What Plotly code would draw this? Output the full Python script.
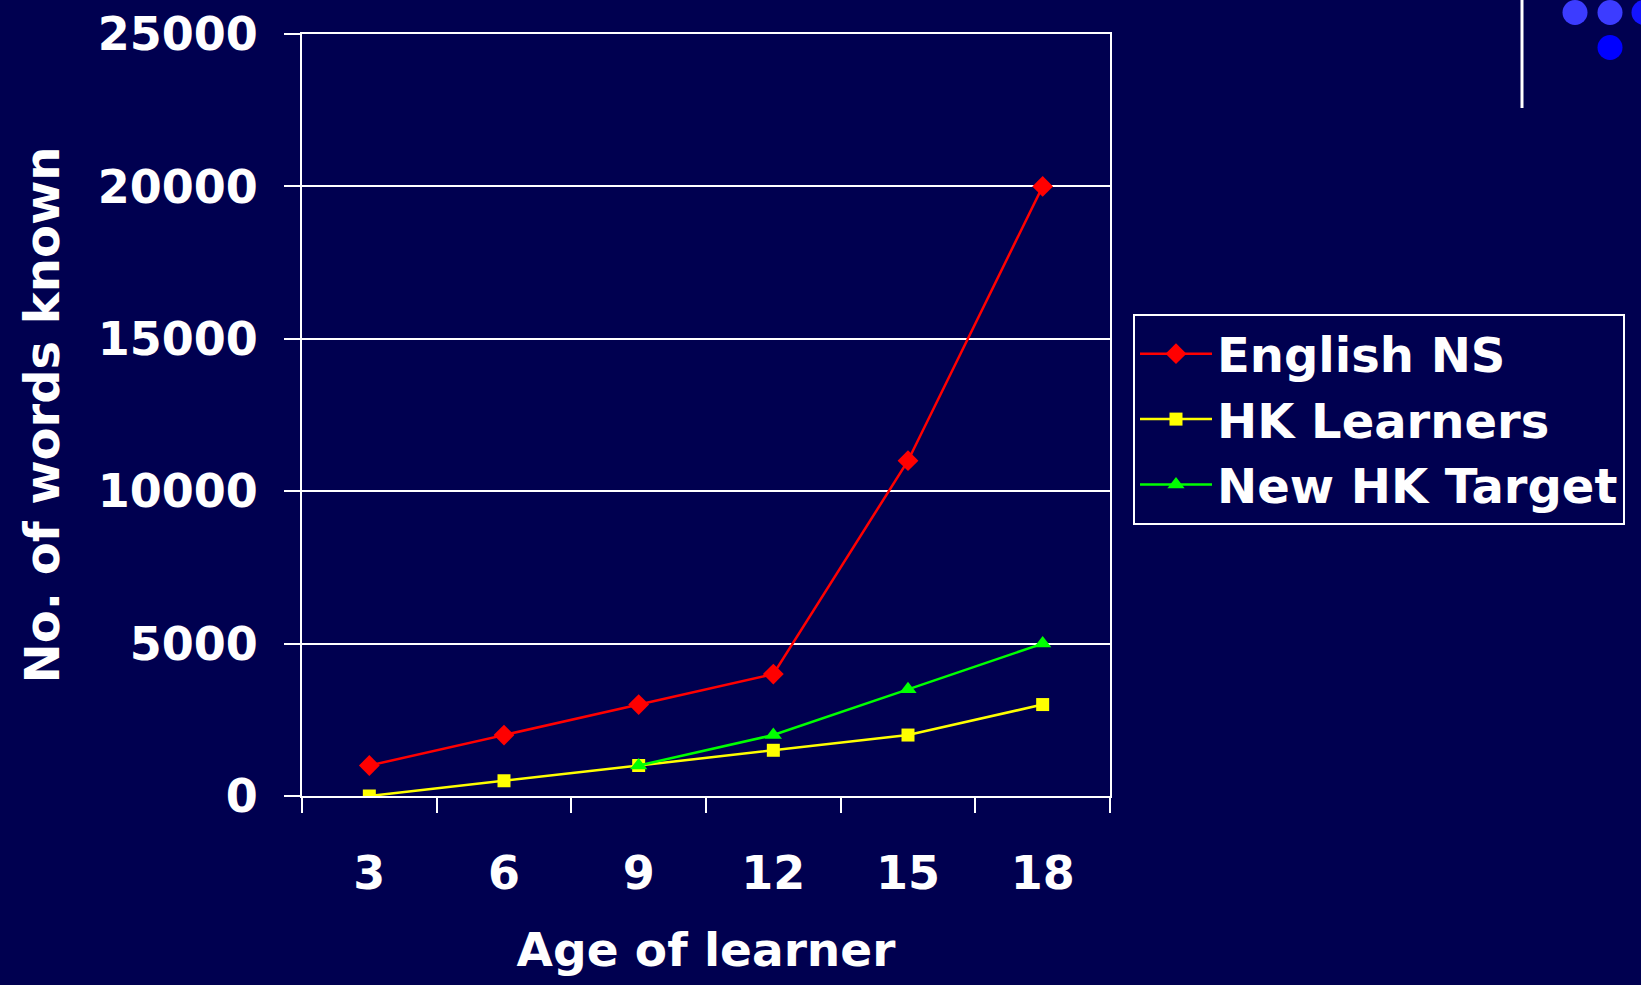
import plotly.graph_objects as go

ages = ["3", "6", "9", "12", "15", "18"]
english_ns = [1000, 2000, 3000, 4000, 11000, 20000]
hk_learners = [0, 500, 1000, 1500, 2000, 3000]
target_ages = ["9", "12", "15", "18"]
new_hk_target = [1000, 2000, 3500, 5000]
y_ticks = [0, 5000, 10000, 15000, 20000, 25000]

BG = "#000050"
W, H = 1641, 985
L, R, T, B = 302, 1110, 34, 796
FONT = "DejaVu Sans"


def px(x):
    return (x - L) / (R - L)


def py(y):
    return (B - y) / (B - T)


fig = go.Figure()
fig.add_trace(go.Scatter(x=ages, y=english_ns, name="English NS", mode="lines+markers",
                         line=dict(color="#FF0000", width=2.5),
                         marker=dict(symbol="diamond", size=16, color="#FF0000")))
fig.add_trace(go.Scatter(x=ages, y=hk_learners, name="HK Learners", mode="lines+markers",
                         line=dict(color="#FFFF00", width=2.5),
                         marker=dict(symbol="square", size=13, color="#FFFF00")))
fig.add_trace(go.Scatter(x=target_ages, y=new_hk_target, name="New HK Target", mode="lines+markers",
                         line=dict(color="#00FF00", width=2.5),
                         marker=dict(symbol="triangle-up", size=15, color="#00FF00")))

shapes = [
    dict(type="line", xref="paper", yref="paper", x0=px(1522), x1=px(1522), y0=py(0), y1=py(108),
         line=dict(color="white", width=3)),
]
circles = [(1575, 12.5, "#3C3CFF"), (1610, 12.5, "#3C3CFF"), (1644, 12.5, "#1414FF"), (1610, 47.5, "#0000FF")]
r = 12.5
for cx, cy, c in circles:
    shapes.append(dict(type="circle", xref="paper", yref="paper",
                       x0=px(cx - r), x1=px(cx + r), y0=py(cy + r), y1=py(cy - r),
                       fillcolor=c, line=dict(width=0)))

fig.update_layout(
    width=W, height=H,
    margin=dict(l=L, r=W - R, t=T, b=H - B, autoexpand=False),
    paper_bgcolor=BG, plot_bgcolor=BG,
    font=dict(family=FONT, color="white", size=40, weight="bold"),
    showlegend=True,
    legend=dict(x=px(1133), y=py(314), xanchor="left", yanchor="top",
                bgcolor=BG, bordercolor="white", borderwidth=2,
                font=dict(size=48, color="white", family=FONT, weight="bold"),
                itemwidth=72, tracegroupgap=0),
    shapes=shapes,
    xaxis=dict(type="category", categoryorder="array", categoryarray=ages,
               range=[-0.5, 5.5],
               tickson="boundaries", ticks="outside", ticklen=15, tickwidth=2, tickcolor="white",
               showline=True, linecolor="white", linewidth=2, mirror=True,
               showgrid=False, zeroline=False,
               tickfont=dict(size=46, family=FONT, weight="bold"),
               ticklabelstandoff=36,
               title=dict(text="Age of learner", font=dict(size=47, family=FONT, weight="bold"), standoff=34),
               automargin=False),
    yaxis=dict(range=[0, 25000], tickvals=y_ticks, ticktext=[str(v) for v in y_ticks],
               ticks="outside", ticklen=16, tickwidth=2, tickcolor="white",
               showline=True, linecolor="white", linewidth=2, mirror=True,
               showgrid=True, gridcolor="white", gridwidth=2, zeroline=False,
               tickfont=dict(size=46, family=FONT, weight="bold"),
               ticklabelstandoff=17,
               title=dict(text="No. of words known", font=dict(size=48, family=FONT, weight="bold"), standoff=23),
               automargin=False),
)

fig.write_html("out.html")
